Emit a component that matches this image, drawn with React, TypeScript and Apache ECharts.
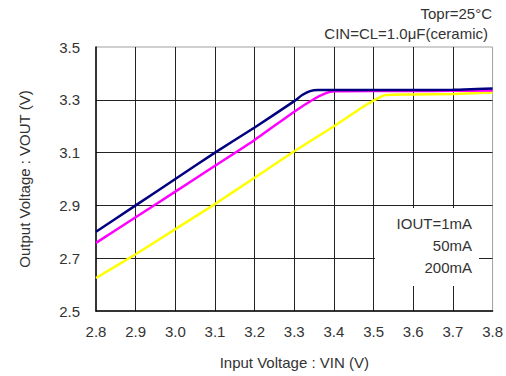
import React, { useEffect, useRef } from "react";
import * as echarts from "echarts";

const xTicks = { min: 2.8, max: 3.8, interval: 0.1 };
const yTicks = { min: 2.5, max: 3.5, interval: 0.2 };

const vin1 = [2.8, 2.9, 3.0, 3.1, 3.2, 3.3, 3.32, 3.34, 3.36, 3.4, 3.5, 3.6, 3.7, 3.76, 3.8];
const vout1 = [2.8, 2.9, 3.0, 3.1, 3.195, 3.295, 3.318, 3.333, 3.337, 3.337, 3.337, 3.337, 3.338, 3.341, 3.343];

const vin2 = [2.8, 2.9, 3.0, 3.1, 3.2, 3.3, 3.35, 3.38, 3.4, 3.5, 3.6, 3.7, 3.8];
const vout2 = [2.758, 2.855, 2.952, 3.05, 3.148, 3.255, 3.303, 3.325, 3.332, 3.333, 3.333, 3.334, 3.335];

const vin3 = [2.8, 2.9, 3.0, 3.1, 3.2, 3.3, 3.4, 3.47, 3.5, 3.53, 3.6, 3.7, 3.8];
const vout3 = [2.625, 2.715, 2.81, 2.905, 3.005, 3.105, 3.2, 3.27, 3.297, 3.318, 3.32, 3.322, 3.328];

const seriesNames = ["IOUT=1mA", "50mA", "200mA"];
const seriesColors = ["#000080", "#ff00ff", "#ffff00"];
const titleLines = ["Topr=25°C", "CIN=CL=1.0μF(ceramic)"];
const xName = "Input Voltage : VIN (V)";
const yName = "Output Voltage : VOUT (V)";

const zip = (a: number[], b: number[]) => a.map((v, i) => [v, b[i]]);

export default function App() {
  const ref = useRef<HTMLDivElement>(null);
  useEffect(() => {
    document.body.style.margin = "0";
    if (!ref.current) return;
    const chart = echarts.init(ref.current, null, { renderer: "svg" });
    const font = "Liberation Sans, Arial, sans-serif";
    const data = [zip(vin1, vout1), zip(vin2, vout2), zip(vin3, vout3)];
    chart.setOption({
      animation: false,
      backgroundColor: "#ffffff",
      grid: {
        left: 96,
        right: 13,
        top: 47,
        bottom: 65,
        show: true,
        borderColor: "#a0a0a0",
        borderWidth: 1,
      },
      xAxis: {
        type: "value",
        min: xTicks.min,
        max: xTicks.max,
        interval: xTicks.interval,
        name: xName,
        nameLocation: "middle",
        nameGap: 44,
        nameTextStyle: { fontFamily: font, fontSize: 15, color: "#333" },
        axisLine: { show: true, onZero: false, lineStyle: { color: "#000", width: 1.5 } },
        axisTick: { show: false },
        axisLabel: {
          formatter: (v: number) => v.toFixed(1),
          fontFamily: font,
          fontSize: 15,
          color: "#333",
          margin: 13,
          showMaxLabel: true,
          showMinLabel: true,
        },
        splitLine: { show: true, showMinLine: false, showMaxLine: false, lineStyle: { color: "#222", width: 1 } },
      },
      yAxis: {
        type: "value",
        min: yTicks.min,
        max: yTicks.max,
        interval: yTicks.interval,
        name: yName,
        nameLocation: "middle",
        nameGap: 64,
        nameTextStyle: { fontFamily: font, fontSize: 15, color: "#333" },
        axisLine: { show: true, onZero: false, lineStyle: { color: "#000", width: 1.5 } },
        axisTick: { show: false },
        axisLabel: {
          formatter: (v: number) => v.toFixed(1),
          fontFamily: font,
          fontSize: 15,
          color: "#333",
          margin: 16,
        },
        splitLine: { show: true, showMinLine: false, showMaxLine: false, lineStyle: { color: "#222", width: 1 } },
      },
      series: data.map((d, i) => ({
        type: "line",
        name: seriesNames[i],
        data: d,
        showSymbol: false,
        smooth: 0.2,
        lineStyle: { color: seriesColors[i], width: 2.5 },
        z: 3 - i + 2,
      })),
      graphic: [
        {
          type: "rect",
          z: 10,
          shape: { x: 375, y: 208, width: 104, height: 78 },
          style: { fill: "#ffffff" },
        },
        ...seriesNames.map((n, i) => ({
          type: "text",
          z: 11,
          x: 472,
          y: 223 + i * 22,
          style: {
            text: n,
            fontFamily: font,
            fontSize: 15,
            fill: "#333",
            align: "right",
            verticalAlign: "middle",
          },
        })),
        ...titleLines.map((t, i) => ({
          type: "text",
          z: 11,
          x: i === 0 ? 492 : 488,
          y: 13 + i * 20,
          style: {
            text: t,
            fontFamily: font,
            fontSize: 15,
            fill: "#333",
            align: "right",
            verticalAlign: "middle",
          },
        })),
      ],
    });
    return () => chart.dispose();
  }, []);
  return <div ref={ref} style={{ width: 506, height: 376 }} />;
}
